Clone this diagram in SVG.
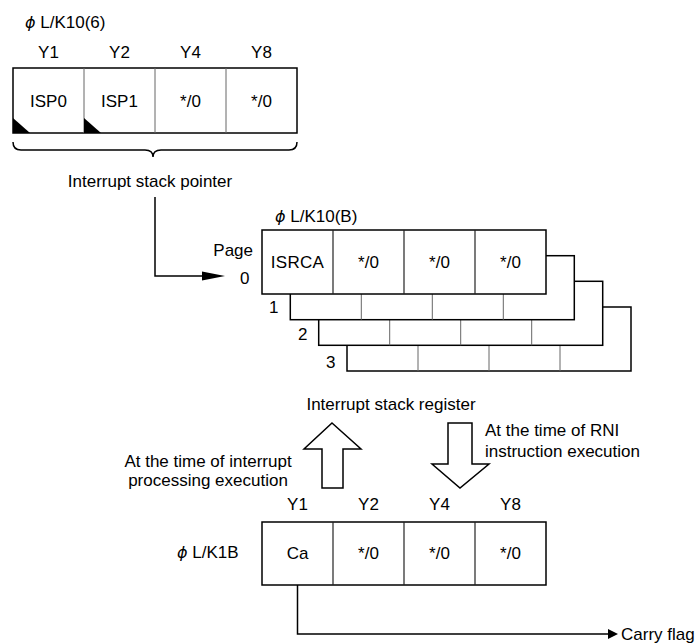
<svg xmlns="http://www.w3.org/2000/svg" width="697" height="644" viewBox="0 0 697 644">
<style>
text{font-family:"Liberation Sans",Arial,sans-serif;font-size:17px;fill:#000}
.c{text-anchor:middle}
.phi{font-family:"DejaVu Sans",sans-serif;font-style:italic;font-size:16px}
.box{fill:#fff;stroke:#000;stroke-width:1.5}
.div{stroke:#666;stroke-width:1}
.divk{stroke:#222;stroke-width:1.2}
.ln{fill:none;stroke:#000;stroke-width:1.5}
</style>
<rect width="697" height="644" fill="#fff"/>
<g id="isp">
<text x="25" y="28"><tspan class="phi">ϕ</tspan> L/K10(6)</text>
<text class="c" x="48.5" y="58">Y1</text>
<text class="c" x="119.5" y="58">Y2</text>
<text class="c" x="190.5" y="58">Y4</text>
<text class="c" x="261.5" y="58">Y8</text>
<rect class="box" x="13" y="68" width="284" height="65"/>
<line class="div" x1="84" y1="68" x2="84" y2="133"/>
<line class="div" x1="155" y1="68" x2="155" y2="133"/>
<line class="div" x1="226" y1="68" x2="226" y2="133"/>
<polygon points="13,118 13,133 30,133" fill="#000"/>
<polygon points="84,118 84,133 101,133" fill="#000"/>
<text class="c" x="48.5" y="107">ISP0</text>
<text class="c" x="119.5" y="107">ISP1</text>
<text class="c" x="190.5" y="107">*/0</text>
<text class="c" x="261.5" y="107">*/0</text>
<path class="ln" d="M13,142 Q13,150 21,150 L145,150 Q153,150 153,157 Q153,150 161,150 L289,150 Q297,150 297,142" stroke-width="1.2"/>
<text class="c" x="150" y="187">Interrupt stack pointer</text>
</g>
<g id="isr">
<text x="275" y="222"><tspan class="phi">ϕ</tspan> L/K10(B)</text>
<text x="253" y="256" text-anchor="end">Page</text>
<text x="240" y="284">0</text>
<g id="page3">
<rect class="box" x="347" y="307" width="284" height="64"/>
<line class="div" x1="418" y1="307" x2="418" y2="371"/>
<line class="div" x1="489" y1="307" x2="489" y2="371"/>
<line class="div" x1="560" y1="307" x2="560" y2="371"/>
<text x="326" y="368">3</text>
</g>
<g id="page2">
<rect class="box" x="318.7" y="281.3" width="284" height="64"/>
<line class="div" x1="389.7" y1="281.3" x2="389.7" y2="345.3"/>
<line class="div" x1="460.7" y1="281.3" x2="460.7" y2="345.3"/>
<line class="div" x1="531.7" y1="281.3" x2="531.7" y2="345.3"/>
<text x="298" y="340">2</text>
</g>
<g id="page1">
<rect class="box" x="290.3" y="255.7" width="284" height="64"/>
<line class="div" x1="361.3" y1="255.7" x2="361.3" y2="319.7"/>
<line class="div" x1="432.3" y1="255.7" x2="432.3" y2="319.7"/>
<line class="div" x1="503.3" y1="255.7" x2="503.3" y2="319.7"/>
<text x="269" y="313">1</text>
</g>
<g id="page0">
<rect class="box" x="262" y="230" width="284" height="64"/>
<line class="divk" x1="333" y1="230" x2="333" y2="294"/>
<line class="divk" x1="404" y1="230" x2="404" y2="294"/>
<line class="divk" x1="475" y1="230" x2="475" y2="294"/>
<text class="c" x="297.5" y="268" letter-spacing="0.3">ISRCA</text>
<text class="c" x="368.5" y="268">*/0</text>
<text class="c" x="439.5" y="268">*/0</text>
<text class="c" x="510.5" y="268">*/0</text>
</g>
<text class="c" x="391" y="410">Interrupt stack register</text>
</g>
<g id="k1b">
<text x="177" y="558"><tspan class="phi">ϕ</tspan> L/K1B</text>
<text class="c" x="297.5" y="510">Y1</text>
<text class="c" x="368.5" y="510">Y2</text>
<text class="c" x="439.5" y="510">Y4</text>
<text class="c" x="510.5" y="510">Y8</text>
<rect class="box" x="262" y="522" width="284" height="63"/>
<line class="divk" x1="333" y1="522" x2="333" y2="585"/>
<line class="divk" x1="404" y1="522" x2="404" y2="585"/>
<line class="divk" x1="475" y1="522" x2="475" y2="585"/>
<text class="c" x="297.5" y="559">Ca</text>
<text class="c" x="368.5" y="559">*/0</text>
<text class="c" x="439.5" y="559">*/0</text>
<text class="c" x="510.5" y="559">*/0</text>
</g>
<g id="labels">
<text class="c" x="208" y="467">At the time of interrupt</text>
<text class="c" x="208" y="486">processing execution</text>
<text x="485" y="436">At the time of RNI</text>
<text x="485" y="457">instruction execution</text>
<text x="621" y="640">Carry flag</text>
</g>
<g id="connectors">
<polyline class="ln" points="155,197 155,276 205,276"/>
<polygon points="202,271.5 225,276 202,280.5" fill="#000"/>
<polygon class="ln" fill="#fff" points="332,423 361,449 343,449 343,488 322,488 322,449 304,449"/>
<polygon class="ln" fill="#fff" points="448,423 472,423 472,464 489,464 460,488 432,464 448,464"/>
<polyline class="ln" points="297.5,585 297.5,634 610,634"/>
<polygon points="608,629 618,634 608,639" fill="#000"/>
</g>
</svg>
